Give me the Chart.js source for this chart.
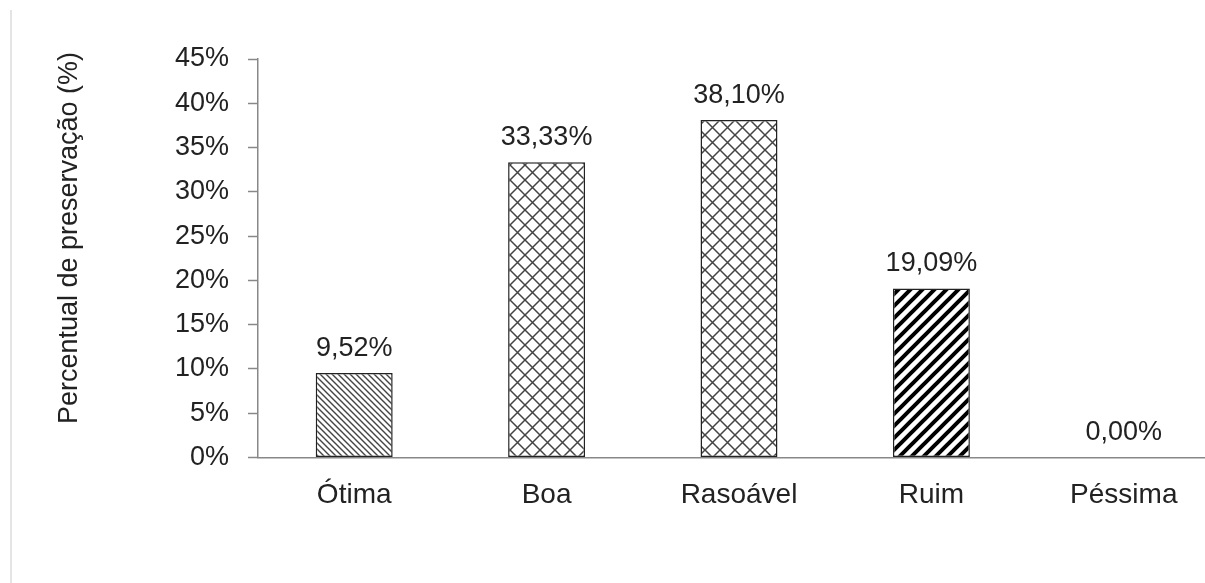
<!DOCTYPE html>
<html lang="pt-BR">
  <head>
    <meta charset="UTF-8" />
    <title>Percentual de preservação</title>
    <script src="https://cdn.jsdelivr.net/npm/chart.js@4.4.0/dist/chart.umd.min.js"></script>
    <style>
      html,
      body {
        margin: 0;
        padding: 0;
        background: #fff;
        overflow: hidden;
      }
      #wrap {
        position: relative;
        width: 1225px;
        height: 583px;
      }
      #borda {
        position: absolute;
        left: 10px;
        top: 10px;
        height: 573px;
        border-left: 2px solid #e4e4e4;
      }
    </style>
  </head>
  <body>
    <div id="wrap">
      <div id="borda"></div>
      <canvas id="grafico" width="1225" height="583"></canvas>
    </div>

    <script>
      // dados
      const categorias = ["Ótima", "Boa", "Rasoável", "Ruim", "Péssima"];
      const percentuais = [9.52, 33.33, 38.1, 19.09, 0.0];
      const tituloY = "Percentual de preservação (%)";
      const fonte = '"Liberation Sans", Arial, sans-serif';

      // hachuras das barras
      function hachura(tipo) {
        const c = document.createElement("canvas");
        const g = c.getContext("2d");
        let n;
        if (tipo === "fina") {
          n = 6;
          c.width = c.height = n;
          g.fillStyle = "#fff";
          g.fillRect(0, 0, n, n);
          g.strokeStyle = "#444";
          g.lineWidth = 1.4;
          g.beginPath();
          g.moveTo(-1, -1);
          g.lineTo(n + 1, n + 1);
          g.moveTo(-1, n - 1);
          g.lineTo(1, n + 1);
          g.moveTo(n - 1, -1);
          g.lineTo(n + 1, 1);
          g.stroke();
        } else if (tipo === "losango") {
          n = 15;
          c.width = c.height = n;
          g.fillStyle = "#fff";
          g.fillRect(0, 0, n, n);
          g.strokeStyle = "#444";
          g.lineWidth = 1.5;
          g.beginPath();
          g.moveTo(0, 0);
          g.lineTo(n, n);
          g.moveTo(0, n);
          g.lineTo(n, 0);
          g.stroke();
        } else {
          n = 12;
          c.width = c.height = n;
          g.fillStyle = "#fff";
          g.fillRect(0, 0, n, n);
          g.strokeStyle = "#000";
          g.lineWidth = 4;
          g.beginPath();
          g.moveTo(-2, n + 2);
          g.lineTo(n + 2, -2);
          g.moveTo(-2, 2);
          g.lineTo(2, -2);
          g.moveTo(n - 2, n + 2);
          g.lineTo(n + 2, n - 2);
          g.stroke();
        }
        return g.createPattern(c, "repeat");
      }

      const padroes = [
        hachura("fina"),
        hachura("losango"),
        hachura("losango"),
        hachura("grossa"),
        "#fff",
      ];

      const rotulos = {
        id: "rotulos",
        afterDatasetsDraw(chart) {
          const ctx = chart.ctx;
          ctx.save();
          ctx.fillStyle = "#222";
          ctx.font = "27px " + fonte;
          ctx.textAlign = "center";
          ctx.textBaseline = "alphabetic";
          chart.getDatasetMeta(0).data.forEach((bar, i) => {
            const txt = percentuais[i].toFixed(2).replace(".", ",") + "%";
            ctx.fillText(txt, bar.x, bar.y - 17);
          });
          // título do eixo y
          ctx.translate(70, 238);
          ctx.rotate(-Math.PI / 2);
          ctx.textBaseline = "middle";
          ctx.font = "27px " + fonte;
          ctx.fillText(tituloY, 0, 0);
          ctx.restore();
        },
      };

      new Chart(document.getElementById("grafico"), {
        type: "bar",
        data: {
          labels: categorias,
          datasets: [
            {
              data: percentuais,
              backgroundColor: padroes,
              borderColor: "#222",
              borderWidth: [1.5, 1.5, 1.5, 1.5, 0],
              borderSkipped: false,
              barPercentage: 0.4,
              categoryPercentage: 1,
            },
          ],
        },
        options: {
          responsive: false,
          animation: false,
          layout: { padding: { left: 0, right: 5, top: 59, bottom: 58 } },
          plugins: {
            legend: { display: false },
            tooltip: { enabled: false },
          },
          scales: {
            x: {
              grid: { display: false },
              border: { display: true, color: "#888", width: 1.5 },
              ticks: {
                color: "#222",
                padding: 13,
                font: { family: fonte, size: 28 },
              },
            },
            y: {
              min: 0,
              max: 45,
              afterFit(s) {
                s.width = 258;
              },
              grid: {
                drawOnChartArea: false,
                tickLength: 10,
                tickColor: "#888",
                tickWidth: 1.5,
              },
              border: { display: true, color: "#888", width: 1.5 },
              ticks: {
                stepSize: 5,
                color: "#222",
                padding: 19,
                font: { family: fonte, size: 27 },
                callback: (v) => v + "%",
              },
            },
          },
        },
        plugins: [rotulos],
      });
    </script>
  </body>
</html>
